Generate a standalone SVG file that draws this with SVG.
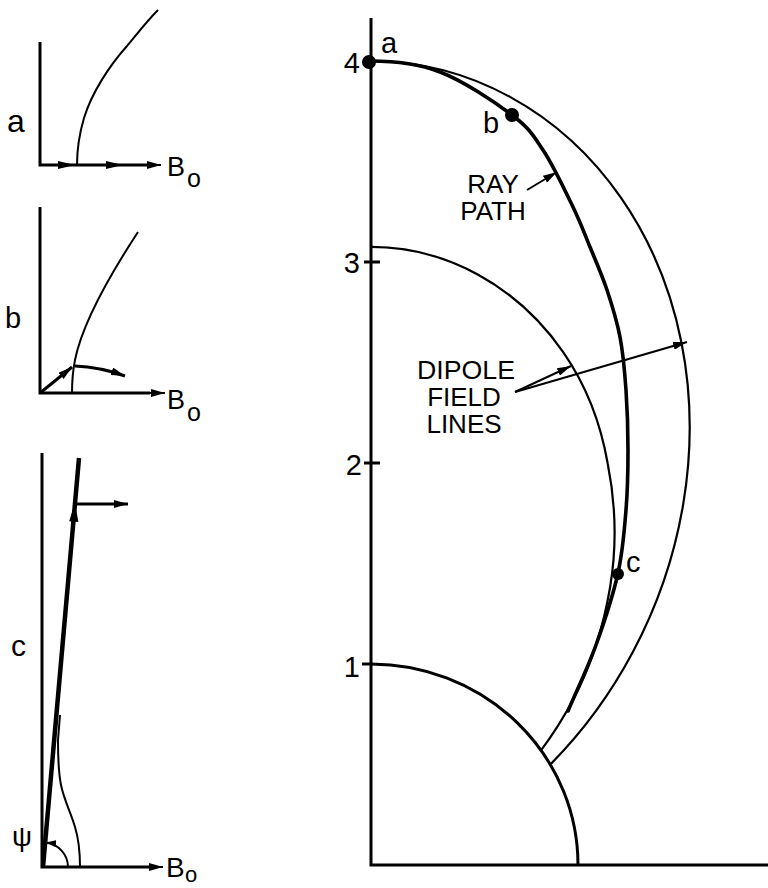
<svg xmlns="http://www.w3.org/2000/svg" width="768" height="888" viewBox="0 0 768 888">
<defs>
<style>
.ax{fill:none;stroke:#000;stroke-width:3;stroke-linecap:butt}
.thin{fill:none;stroke:#000;stroke-width:2}
.fl{fill:none;stroke:#000;stroke-width:2.2;stroke-linejoin:round}
.ray{fill:none;stroke:#000;stroke-width:3.6;stroke-linecap:round;stroke-linejoin:round}
.lbl{font-family:"Liberation Sans","DejaVu Sans",sans-serif;fill:#000}
.cap{font-family:"Liberation Sans","DejaVu Sans",sans-serif;fill:#000;text-anchor:middle}
.hd{fill:#000;stroke:none}
</style>
<marker id="ah" viewBox="0 0 14 8" refX="14" refY="4" markerWidth="14" markerHeight="8" markerUnits="userSpaceOnUse" orient="auto"><path d="M0,0 L14,4 L0,8 Z" fill="#000"/></marker>
<marker id="ahs" viewBox="0 0 10 7" refX="10" refY="3.5" markerWidth="10" markerHeight="7" markerUnits="userSpaceOnUse" orient="auto"><path d="M0,0 L10,3.5 L0,7 Z" fill="#000"/></marker>
</defs>
<rect width="768" height="888" fill="#fff"/>

<!-- Panel a -->
<g id="panel-a">
<path class="ax" d="M40,42 V165 H150"/>
<path class="thin" d="M148,165 H161" marker-end="url(#ah)"/>
<polygon class="hd" points="75,165 58,161 58,169"/>
<polygon class="hd" points="123,165 106,161 106,169"/>
<path class="thin" d="M77,165 C77,150 79,135 84,118 C92,92 110,65 127,46 C137,34 147,21 158,10"/>
<text class="lbl" x="7" y="132" font-size="32">a</text>
<text class="lbl" x="167" y="176" font-size="27">B</text>
<text class="lbl" x="187" y="187" font-size="25">o</text>
</g>

<!-- Panel b -->
<g id="panel-b">
<path class="ax" d="M40,207 V393 H150"/>
<path class="thin" d="M148,393 H165" marker-end="url(#ah)"/>
<path class="thin" d="M72,393 C72,380 73,370 75,360 C81,330 100,290 138,232"/>
<path class="ax" d="M40,393 L72,367" marker-end="url(#ah)"/>
<path class="ax" d="M75,366 Q100,367 125,376" marker-end="url(#ah)"/>
<text class="lbl" x="5" y="328" font-size="29">b</text>
<text class="lbl" x="167" y="409" font-size="27">B</text>
<text class="lbl" x="187" y="421" font-size="25">o</text>
</g>

<!-- Panel c -->
<g id="panel-c">
<path class="ax" d="M42,453 V867 H150"/>
<path class="thin" d="M148,867 H163" marker-end="url(#ah)"/>
<path d="M43,867 L79,458" fill="none" stroke="#000" stroke-width="4.5"/>
<polygon class="hd" points="74.9,503 78.4,522 69.2,521.2"/>
<path class="ax" d="M77,504 H128" marker-end="url(#ah)"/>
<path class="thin" d="M80,867 C80,855 79,840 75,827 C71,813 64,800 61,785 C58,770 58,755 58,740 L60,715"/>
<path class="thin" d="M68,867 A25,25 0 0 0 46,842.5" marker-end="url(#ahs)"/>
<text class="lbl" x="11" y="656" font-size="30">c</text>
<text class="lbl" x="12" y="846" font-size="28" font-family="DejaVu Sans">ψ</text>
<text class="lbl" x="166" y="877" font-size="28">B</text>
<text class="lbl" x="185" y="882" font-size="22">o</text>
</g>

<!-- Right: axes -->
<g id="axes">
<path class="ax" d="M371,18 V865 H768"/>
<path class="ax" d="M364,262 H380 M364,463 H380 M362,664 H371"/>
<text class="lbl" x="360" y="73" font-size="29" text-anchor="end">4</text>
<text class="lbl" x="360" y="273" font-size="29" text-anchor="end">3</text>
<text class="lbl" x="362" y="475" font-size="29" text-anchor="end">2</text>
<text class="lbl" x="360" y="677" font-size="29" text-anchor="end">1</text>
</g>

<g id="earth">
<path class="ax" d="M371,664 A207,201 0 0 1 578,865"/>
</g>

<g id="field-line-outer">
<path class="fl" d="M371,61 C419.2,61 467.3,73.5 510.4,97.1 C553.6,120.7 591.7,155.5 621.1,197.9 C650.5,240.3 671.1,290.2 681.5,342.8 C691.9,395.4 692.1,450.7 683.3,503.6 C674.5,556.5 656.7,607.1 633.1,651.5 C609.6,695.9 580.4,734.1 550.3,764.5"/>
</g>

<g id="field-line-inner">
<path class="fl" d="M371,246.9 C408,246.9 445,256.5 478.2,274.7 C511.4,292.9 540.6,319.5 563.2,352.1 C585.8,384.7 600.7,423.1 607.7,463.5 C615.7,503.9 616.9,546.5 610.1,587.2 C603.3,627.9 590.6,666.7 572.5,700.8 C563,718.7 552.3,735.3 541,750.4"/>
</g>

<g id="ray-path">
<path class="ray" d="M371,61 C394,61 416.5,63 440,72 C463.5,81 494.8,102 512,115 C529.2,128 532.8,134.7 543,150 C553.2,165.3 565.2,190.8 573,207 C580.8,223.2 584.3,233.2 590,247 C595.7,260.8 602,275 607,290 C612,305 616.8,320.3 620,337 C623.2,353.7 624.7,371.2 626,390 C627.3,408.8 628,430 628,450 C628,470 627.7,489.5 626,510 C624.3,530.5 623,550.5 618,573 C613,595.5 604.3,622 596,645 C587.7,668 577.3,689 568,711"/>
</g>

<g id="point-a">
<circle cx="369" cy="62" r="7"/>
<text class="lbl" x="381" y="53" font-size="29">a</text>
</g>
<g id="point-b">
<circle cx="512" cy="115" r="7"/>
<text class="lbl" x="483" y="133" font-size="29">b</text>
</g>
<g id="point-c">
<circle cx="618" cy="574" r="6"/>
<text class="lbl" x="626" y="572" font-size="29">c</text>
</g>

<g id="label-ray-path">
<text class="cap" x="493" y="193" font-size="26">RAY</text>
<text class="cap" x="493" y="220" font-size="26">PATH</text>
</g>

<g id="label-dipole">
<text class="cap" x="466" y="379" font-size="26" textLength="98" lengthAdjust="spacingAndGlyphs">DIPOLE</text>
<text class="cap" x="464" y="406" font-size="26">FIELD</text>
<text class="cap" x="464" y="433" font-size="26">LINES</text>
</g>

<g id="connectors">
<path class="thin" d="M527,190 L557,172" marker-end="url(#ah)"/>
<path class="thin" d="M515,392 L571,366" marker-end="url(#ah)"/>
<path class="thin" d="M515,392 L687,342" marker-end="url(#ah)"/>
</g>
</svg>
